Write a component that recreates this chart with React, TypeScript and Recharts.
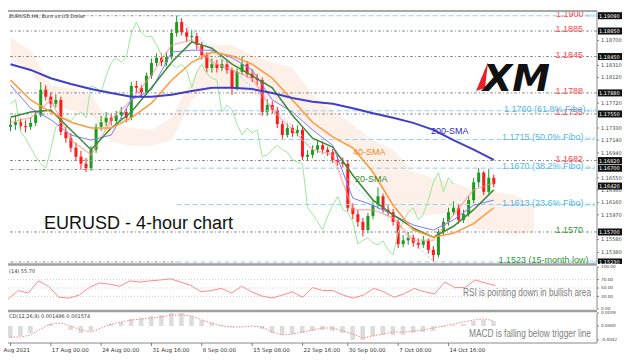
import React from 'react';
import { ComposedChart, Bar, Line, Area, XAxis, YAxis, ReferenceLine } from 'recharts';

// 4h candles, merged ~3 bars per candle
const opens = [1.1735, 1.1738, 1.1742, 1.1736, 1.1735, 1.1741, 1.1753, 1.1793, 1.1782, 1.1771,
  1.1777, 1.1727, 1.1717, 1.1702, 1.1688, 1.1677, 1.1670, 1.1699, 1.1735, 1.1742,
  1.1749, 1.1744, 1.1753, 1.1758, 1.1749, 1.1799, 1.1796, 1.1789, 1.1815, 1.1835,
  1.1843, 1.1836, 1.1844, 1.1882, 1.1899, 1.1883, 1.1876, 1.1877, 1.1863, 1.1847,
  1.1827, 1.1833, 1.1827, 1.1833, 1.1824, 1.1796, 1.1821, 1.1833, 1.1818, 1.1811,
  1.1808, 1.1758, 1.1769, 1.1761, 1.1739, 1.1722, 1.1733, 1.1725, 1.1730, 1.1688,
  1.1691, 1.1699, 1.1706, 1.1699, 1.1695, 1.1683, 1.1680, 1.1677, 1.1608, 1.1598,
  1.1586, 1.1573, 1.1595, 1.1612, 1.1626, 1.1605, 1.1601, 1.1586, 1.1551, 1.1557,
  1.1561, 1.1553, 1.1550, 1.1556, 1.1542, 1.1534, 1.1570, 1.1586, 1.1601, 1.1608,
  1.1589, 1.1598, 1.1620, 1.1648, 1.1663, 1.1633, 1.1655];
const highs = [1.1748, 1.1752, 1.1748, 1.1745, 1.1750, 1.1760, 1.1805, 1.1800, 1.1788, 1.1786,
  1.1782, 1.1735, 1.1725, 1.1710, 1.1697, 1.1686, 1.1705, 1.1740, 1.1752, 1.1758,
  1.1756, 1.1760, 1.1766, 1.1764, 1.1805, 1.1807, 1.1800, 1.1820, 1.1842, 1.1850,
  1.1850, 1.1852, 1.1888, 1.1909, 1.1905, 1.1890, 1.1887, 1.1882, 1.1868, 1.1852,
  1.1842, 1.1840, 1.1841, 1.1838, 1.1828, 1.1826, 1.1845, 1.1838, 1.1825, 1.1818,
  1.1812, 1.1778, 1.1775, 1.1766, 1.1744, 1.1740, 1.1738, 1.1737, 1.1735, 1.1698,
  1.1706, 1.1714, 1.1712, 1.1704, 1.1700, 1.1690, 1.1687, 1.1682, 1.1615, 1.1604,
  1.1592, 1.1600, 1.1618, 1.1640, 1.1630, 1.1612, 1.1606, 1.1590, 1.1565, 1.1570,
  1.1566, 1.1560, 1.1564, 1.1560, 1.1548, 1.1575, 1.1592, 1.1608, 1.1618, 1.1613,
  1.1605, 1.1626, 1.1655, 1.1670, 1.1666, 1.1669, 1.1660];
const lows = [1.1728, 1.1730, 1.1728, 1.1726, 1.1730, 1.1736, 1.1750, 1.1776, 1.1764, 1.1765,
  1.1722, 1.1710, 1.1695, 1.1682, 1.1668, 1.1664, 1.1666, 1.1694, 1.1728, 1.1736,
  1.1737, 1.1739, 1.1747, 1.1742, 1.1745, 1.1788, 1.1781, 1.1785, 1.1810, 1.1830,
  1.1830, 1.1830, 1.1840, 1.1876, 1.1878, 1.1868, 1.1868, 1.1856, 1.1840, 1.1820,
  1.1820, 1.1820, 1.1822, 1.1818, 1.1785, 1.1792, 1.1816, 1.1812, 1.1805, 1.1800,
  1.1752, 1.1752, 1.1755, 1.1733, 1.1716, 1.1718, 1.1719, 1.1720, 1.1683, 1.1682,
  1.1686, 1.1694, 1.1693, 1.1689, 1.1678, 1.1674, 1.1671, 1.1602, 1.1590, 1.1578,
  1.1563, 1.1568, 1.1590, 1.1606, 1.1600, 1.1595, 1.1580, 1.1545, 1.1546, 1.1550,
  1.1547, 1.1544, 1.1545, 1.1536, 1.1524, 1.1530, 1.1565, 1.1580, 1.1596, 1.1583,
  1.1584, 1.1594, 1.1615, 1.1640, 1.1628, 1.1630, 1.1640];
const closes = [1.1738, 1.1742, 1.1736, 1.1735, 1.1741, 1.1753, 1.1793, 1.1782, 1.1771, 1.1777,
  1.1727, 1.1717, 1.1702, 1.1688, 1.1677, 1.1670, 1.1699, 1.1735, 1.1742, 1.1749,
  1.1744, 1.1753, 1.1758, 1.1749, 1.1799, 1.1796, 1.1789, 1.1815, 1.1835, 1.1843,
  1.1836, 1.1844, 1.1882, 1.1899, 1.1883, 1.1876, 1.1877, 1.1863, 1.1847, 1.1827,
  1.1833, 1.1827, 1.1833, 1.1824, 1.1796, 1.1821, 1.1833, 1.1818, 1.1811, 1.1808,
  1.1758, 1.1769, 1.1761, 1.1739, 1.1722, 1.1733, 1.1725, 1.1730, 1.1688, 1.1691,
  1.1699, 1.1706, 1.1699, 1.1695, 1.1683, 1.1680, 1.1677, 1.1608, 1.1598, 1.1586,
  1.1573, 1.1595, 1.1612, 1.1626, 1.1605, 1.1601, 1.1586, 1.1551, 1.1557, 1.1561,
  1.1553, 1.1550, 1.1556, 1.1542, 1.1534, 1.1570, 1.1586, 1.1601, 1.1608, 1.1589,
  1.1598, 1.1620, 1.1648, 1.1663, 1.1633, 1.1655, 1.1645];

// indicator lines, one value every 4 candles
const sma200 = [1.1833, 1.1824, 1.1811, 1.1802, 1.1794, 1.1788, 1.1782, 1.1782, 1.1785, 1.1791, 1.1796, 1.1796, 1.1794,
  1.1788, 1.1780, 1.1774, 1.1771, 1.1764, 1.1756, 1.1749, 1.1741, 1.1730, 1.1714, 1.1699, 1.1683];
const sma40 = [1.1808, 1.1777, 1.1758, 1.1742, 1.1733, 1.1733, 1.1749, 1.1772, 1.1808, 1.1836, 1.1852, 1.1846, 1.1833,
  1.1811, 1.1777, 1.1742, 1.1719, 1.1702, 1.1664, 1.1612, 1.1573, 1.1562, 1.1568, 1.1583, 1.1608];
const sma20 = [1.1750, 1.1758, 1.1761, 1.1730, 1.1699, 1.1733, 1.1758, 1.1796, 1.1836, 1.1868, 1.1858, 1.1833, 1.1815,
  1.1796, 1.1753, 1.1717, 1.1703, 1.1659, 1.1620, 1.1597, 1.1576, 1.1562, 1.1579, 1.1605, 1.1636];
const kijun = [1.1800, 1.1764, 1.1746, 1.1722, 1.1714, 1.1722, 1.1777, 1.1793, 1.1852, 1.1855, 1.1855, 1.1843, 1.1824,
  1.1777, 1.1758, 1.1730, 1.1706, 1.1623, 1.1612, 1.1597, 1.1581, 1.1573, 1.1589, 1.1612, 1.1620];
const tenkan = [1.1742, 1.1749, 1.1777, 1.1714, 1.1691, 1.1746, 1.1777, 1.1816, 1.1863, 1.1871, 1.1836, 1.1824, 1.1811,
  1.1761, 1.1730, 1.1699, 1.1691, 1.1605, 1.1605, 1.1592, 1.1557, 1.1557, 1.1597, 1.1636, 1.1647];
const cloudTop = [1.1874, 1.1855, 1.1800, 1.1796, 1.1785, 1.1738, 1.1733, 1.1730, 1.1749, 1.1808, 1.1863, 1.1863, 1.1847,
  1.1836, 1.1827, 1.1785, 1.1761, 1.1738, 1.1714, 1.1699, 1.1664, 1.1655, 1.1648, 1.1636, 1.1633, 1.1628, 1.1612];
const cloudBottom = [1.1840, 1.1824, 1.1769, 1.1761, 1.1753, 1.1711, 1.1705, 1.1705, 1.1714, 1.1777, 1.1800, 1.1793, 1.1785,
  1.1777, 1.1761, 1.1730, 1.1714, 1.1699, 1.1659, 1.1605, 1.1597, 1.1597, 1.1601, 1.1576, 1.1570, 1.1565, 1.1570];
const chikou = closes.slice(8);

// oscillators, one value every 2 candles
const rsi = [23, 44, 38, 67, 54, 28, 26, 33, 51, 62, 59, 54, 67, 64, 67, 69, 72, 64, 56, 41, 44, 49, 38, 54, 41,
  31, 26, 33, 41, 28, 51, 44, 44, 33, 26, 33, 49, 41, 28, 36, 49, 41, 36, 64, 51, 51, 69, 62, 55.7];
const macd = [-0.0036, -0.0030, -0.0021, 0.0000, 0.0006, 0.0000, -0.0012, -0.0021, -0.0015, 0.0000, 0.0006, 0.0012,
  0.0021, 0.0024, 0.0030, 0.0033, 0.0039, 0.0039, 0.0030, 0.0018, 0.0009, 0.0003, -0.0003, 0.0000, 0.0000, -0.0009,
  -0.0021, -0.0027, -0.0024, -0.0021, -0.0015, -0.0012, -0.0015, -0.0021, -0.0042, -0.0042, -0.0030, -0.0027, -0.0027,
  -0.0027, -0.0021, -0.0018, -0.0015, -0.0003, 0.0003, 0.0006, 0.0015, 0.0018, 0.0015];
const signal = [-0.0033, -0.0033, -0.0027, -0.0009, 0.0006, 0.0009, 0.0000, -0.0012, -0.0018, -0.0006, 0.0006, 0.0012,
  0.0018, 0.0021, 0.0024, 0.0027, 0.0033, 0.0033, 0.0030, 0.0018, 0.0009, 0.0000, -0.0003, -0.0003, 0.0000, -0.0003,
  -0.0018, -0.0027, -0.0024, -0.0018, -0.0012, -0.0006, -0.0006, -0.0015, -0.0024, -0.0036, -0.0030, -0.0024, -0.0018,
  -0.0018, -0.0015, -0.0012, -0.0006, 0.0000, 0.0006, 0.0012, 0.0018, 0.0021, 0.0016];

const priceTicks = [1.1538, 1.1558, 1.1597, 1.1616, 1.1636, 1.1655, 1.1694, 1.1714, 1.1733, 1.1772, 1.1812, 1.1831, 1.1870];
const boxedPrices = [1.1909, 1.1885, 1.1845, 1.1788, 1.1755, 1.1682, 1.1670, 1.1642, 1.1570, 1.1523];
const tickIdx = [0, 8, 18, 28, 38, 48, 58, 67, 77, 87];
const tickText = ['Aug 2021', '17 Aug 00:00', '24 Aug 00:00', '31 Aug 16:00', '8 Sep 00:00', '15 Sep 08:00',
  '22 Sep 16:00', '30 Sep 00:00', '7 Oct 08:00', '14 Oct 16:00'];

const SLOTS = 117;
const rows = Array.from({ length: SLOTS }, (_, i) => {
  const r: any = { i };
  if (i < closes.length) {
    r.open = opens[i]; r.high = highs[i]; r.low = lows[i]; r.close = closes[i];
    r.range = [lows[i], highs[i]];
  }
  if (i < chikou.length) r.chikou = chikou[i];
  if (i % 4 === 0) {
    const k = i / 4;
    if (k < sma200.length) {
      r.sma200 = sma200[k]; r.sma40 = sma40[k]; r.sma20 = sma20[k]; r.kijun = kijun[k]; r.tenkan = tenkan[k];
    }
    if (k < cloudTop.length) r.cloud = [cloudBottom[k], cloudTop[k]];
  }
  if (i % 2 === 0 && i / 2 < rsi.length) {
    r.rsi = rsi[i / 2]; r.macd = macd[i / 2]; r.signal = signal[i / 2];
  }
  return r;
});

const SANS = "'Liberation Sans', Arial, sans-serif";
const TINY = "'DejaVu Sans', sans-serif";

function Candle(props: any) {
  const { x, y, width, height, payload } = props;
  if (!payload || payload.high == null) return null;
  const top = Math.min(y, y + height);
  const h = Math.abs(height);
  const span = payload.high - payload.low || 1e-9;
  const py = (v: number) => top + ((payload.high - v) / span) * h;
  const up = payload.close >= payload.open;
  const color = up ? '#1e9a1e' : '#ff1a1a';
  const b1 = py(Math.max(payload.open, payload.close));
  const b2 = py(Math.min(payload.open, payload.close));
  const cx = x + width / 2;
  return (
    <g>
      <line x1={cx} x2={cx} y1={top} y2={top + h} stroke={color} strokeWidth={1} />
      <rect x={x} y={b1} width={width} height={Math.max(1, b2 - b1)} fill={color} />
    </g>
  );
}

const lvlLabel = (text: string, color: string, dx: number, suffix?: string) => (p: any) => {
  const vb = p.viewBox || {};
  const end = vb.x + vb.width - dx;
  return (
    <g>
      <text x={end} y={vb.y + 1} textAnchor="end" fontSize={9} fontFamily={SANS} fill={color}>{text}</text>
      {suffix ? (
        <text x={end + 1.5} y={vb.y + 1} fontSize={4.5} fontFamily={TINY} fill="#7cc8ee">{suffix}</text>
      ) : null}
    </g>
  );
};

const boxLabel = (v: number) => (p: any) => {
  const vb = p.viewBox || {};
  const x = vb.x + vb.width + 1;
  return (
    <g>
      <rect x={x} y={vb.y - 3.5} width={24} height={7} fill="#111" />
      <text x={x + 1} y={vb.y + 2} fontSize={5} fontFamily={TINY} fill="#fff">{v.toFixed(5)}</text>
    </g>
  );
};

const GRAY = '#8f8f8f';
const CYAN = '#8fd2f2';
const RED = '#ff4a4a';
const BLUE_TXT = '#52b6ec';
const GREEN_TXT = '#2f9a2f';

function grayLine(v: number, text?: string, color?: string) {
  return (
    <ReferenceLine key={'g' + v} y={v} stroke={GRAY} strokeWidth={1} strokeDasharray="3 2 1 2"
      label={text ? lvlLabel(text, color || RED, 14) : undefined} />
  );
}

function grayLeft(v: number) {
  return (
    <ReferenceLine key={'gl' + v} segment={[{ x: 0, y: v }, { x: 33, y: v }]} stroke={GRAY} strokeWidth={1}
      strokeDasharray="3 2 1 2" />
  );
}

function fiboLine(v: number, text: string, color: string, dx: number, suffix: string) {
  return (
    <ReferenceLine key={'f' + v} segment={[{ x: 33, y: v }, { x: 116, y: v }]} stroke={CYAN} strokeWidth={1}
      strokeDasharray="5 3" label={lvlLabel(text, color, dx, suffix)} />
  );
}

function renderTick(p: any) {
  const { x, y, payload } = p;
  const k = tickIdx.indexOf(payload.value);
  if (k < 0) return <g />;
  return (
    <g>
      <line x1={x} x2={x} y1={y} y2={y + 3} stroke="#666" strokeWidth={0.8} />
      <text x={k === 0 ? x - 7 : x + 1} y={y + 9} fontSize={5.5} fontFamily={TINY} fill="#333">{tickText[k]}</text>
    </g>
  );
}

const yTick = { fontSize: 5, fill: '#444', fontFamily: TINY };
const oscTick = { fontSize: 4.2, fill: '#444', fontFamily: TINY };

export default function App() {
  return (
    <div style={{ position: 'absolute', left: 0, top: 0, width: 624, height: 361, background: '#fff', overflow: 'hidden' }}>
      <div style={{ position: 'absolute', left: 0, top: 0 }}>
        <ComposedChart width={624} height={264} data={rows} margin={{ top: 11, right: 0, bottom: 1, left: 8 }}>
          <XAxis dataKey="i" hide />
          <YAxis orientation="right" width={27} domain={[1.15214, 1.19164]} allowDataOverflow ticks={priceTicks}
            interval={0} tickFormatter={(v: number) => v.toFixed(5)} tick={yTick} tickSize={2}
            axisLine={{ stroke: '#888' }} tickLine={{ stroke: '#888' }} />
          <Area dataKey="cloud" stroke="none" fill="#f6cdb6" fillOpacity={0.3}
            connectNulls isAnimationActive={false} />
          {grayLeft(1.1909)}
          {grayLeft(1.1668)}
          {grayLeft(1.1523)}
          {grayLine(1.1885, '1.1885')}
          {grayLine(1.1845, '1.1845')}
          {grayLine(1.1788, '1.1788')}
          {grayLine(1.1755, '1.1755')}
          {grayLine(1.1682, '1.1682')}
          {grayLine(1.1570, '1.1570', GREEN_TXT)}
          {fiboLine(1.1909, '1.1900', RED, 11, '100.0')}
          {fiboLine(1.1760, '1.1760 (61.8% Fibo)', BLUE_TXT, 9, '61.8')}
          {fiboLine(1.1715, '1.1715 (50.0% Fibo)', BLUE_TXT, 11, '50.0')}
          {fiboLine(1.1670, '1.1670 (38.2% Fibo)', BLUE_TXT, 11, '38.2')}
          {fiboLine(1.1613, '1.1613 (23.6% Fibo)', BLUE_TXT, 11, '23.6')}
          {fiboLine(1.1523, '1.1523 (15-month low)', GREEN_TXT, 6, '0.0')}
          <ReferenceLine segment={[{ x: 33, y: 1.1909 }, { x: 84, y: 1.1524 }]} stroke={CYAN} strokeWidth={1}
            strokeDasharray="2 2" />
          {boxedPrices.map((v) => (
            <ReferenceLine key={'b' + v} y={v} stroke="none" label={boxLabel(v)} />
          ))}
          <Line dataKey="chikou" stroke="#9be89b" strokeWidth={1} dot={false} connectNulls isAnimationActive={false} />
          <Bar dataKey="range" barSize={3} shape={(p: any) => <Candle {...p} />} isAnimationActive={false} />
          <Line dataKey="tenkan" stroke="#ff8c8c" strokeOpacity={0.6} strokeWidth={1.5} dot={false} connectNulls isAnimationActive={false} />
          <Line dataKey="kijun" stroke="#7a7aff" strokeWidth={1} dot={false} connectNulls isAnimationActive={false} />
          <Line dataKey="sma20" stroke="#3a8c3a" strokeWidth={1.5} dot={false} connectNulls isAnimationActive={false} />
          <Line dataKey="sma40" stroke="#ff9a3c" strokeWidth={1.5} dot={false} connectNulls isAnimationActive={false} />
          <Line dataKey="sma200" stroke="#3f3fcc" strokeWidth={2} dot={false} connectNulls isAnimationActive={false} />
        </ComposedChart>
      </div>

      <div style={{ position: 'absolute', left: 0, top: 264 }}>
        <ComposedChart width={624} height={50} data={rows} margin={{ top: 3, right: 0, bottom: 5, left: 8 }}>
          <XAxis dataKey="i" hide />
          <YAxis orientation="right" width={27} domain={[0, 100]} ticks={[0, 30, 50, 70, 100]} interval={0}
            tickFormatter={(v: number) => v.toFixed(2)} tick={oscTick} tickSize={2}
            axisLine={{ stroke: '#888' }} tickLine={{ stroke: '#888' }} />
          <ReferenceLine y={70} stroke="#cfcfcf" strokeDasharray="1 2" />
          <ReferenceLine y={50} stroke="#cfcfcf" strokeDasharray="1 2" />
          <ReferenceLine y={30} stroke="#cfcfcf" strokeDasharray="1 2" />
          <Line dataKey="rsi" stroke="#ff8a8a" strokeWidth={1} dot={false} connectNulls isAnimationActive={false} />
        </ComposedChart>
      </div>

      <div style={{ position: 'absolute', left: 0, top: 308 }}>
        <ComposedChart width={624} height={53} data={rows} margin={{ top: 5, right: 0, bottom: 0, left: 8 }}>
          <XAxis dataKey="i" interval={0} height={18} tickSize={0} tickMargin={0} tickLine={false}
            axisLine={{ stroke: '#888' }} tick={renderTick} />
          <YAxis orientation="right" width={27} domain={[-0.0051, 0.0039]} allowDataOverflow
            ticks={[-0.0042, 0, 0.0039]} interval={0} tickFormatter={(v: number) => v.toFixed(4)} tick={oscTick}
            tickSize={2} axisLine={{ stroke: '#888' }} tickLine={{ stroke: '#888' }} />
          <Bar dataKey="macd" barSize={10} fill="#dcdcdc" isAnimationActive={false} />
          <Line dataKey="signal" stroke="#ff7f7f" strokeWidth={1} strokeDasharray="1.5 1.5" dot={false}
            connectNulls isAnimationActive={false} />
        </ComposedChart>
      </div>

      <svg width={624} height={361} style={{ position: 'absolute', left: 0, top: 0, pointerEvents: 'none' }}>
        <line x1={8} x2={597} y1={11} y2={11} stroke="#a8a8a8" strokeWidth={2} />
        <line x1={8} x2={597} y1={264.5} y2={264.5} stroke="#a0a0a0" strokeWidth={2.5} />
        <line x1={8} x2={597} y1={311} y2={311} stroke="#a0a0a0" strokeWidth={2.5} />
        <text x={9} y={18} fontSize={5} fontFamily={TINY} fill="#333">EURUSD,H4,  Euro vs.US Dollar</text>
        <text x={9} y={273} fontSize={5} fontFamily={TINY} fill="#333">(14) 55.70</text>
        <text x={9} y={318} fontSize={5} fontFamily={TINY} fill="#333">CD(12,26,9) 0.001486 0.001574</text>

        <text x={44} y={229} fontSize={18} fontFamily={SANS} fill="#111">EURUSD - 4-hour chart</text>
        <text x={431} y={134} fontSize={9} fontFamily={SANS} fill="#2b2bb8">200-SMA</text>
        <text x={353} y={155} fontSize={9} fontFamily={SANS} fill="#f08a24">40-SMA</text>
        <text x={355} y={182} fontSize={9} fontFamily={SANS} fill="#2e8b2e">20-SMA</text>

        <polygon points="488,62 476,91 485,88" fill="#e8202a" />
        <text x={483} y={91} fontSize={38} fontWeight="bold" fontStyle="italic" fontFamily="'DejaVu Sans', sans-serif"
          fill="#111" textLength={67} lengthAdjust="spacingAndGlyphs">XM</text>

        <text x={463} y={296} fontSize={10} fontFamily={SANS} fill="#808080" textLength={128}
          lengthAdjust="spacingAndGlyphs">RSI is pointing down in bullish area</text>
        <text x={469} y={337} fontSize={10} fontFamily={SANS} fill="#808080" textLength={122}
          lengthAdjust="spacingAndGlyphs">MACD is falling below trigger line</text>
      </svg>
    </div>
  );
}
